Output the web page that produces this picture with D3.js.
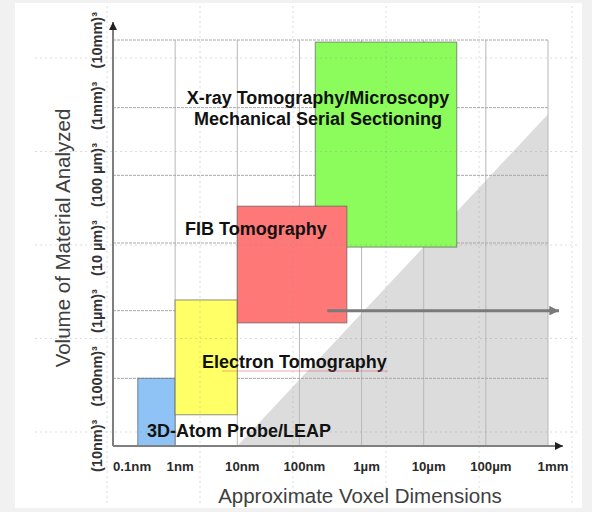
<!DOCTYPE html>
<html>
<head>
<meta charset="utf-8">
<script src="https://cdn.jsdelivr.net/npm/d3@7/dist/d3.min.js"></script>
<style>
  body { margin: 0; background: #f1f1f1; }
  svg { display: block; font-family: "Liberation Sans", Arial, sans-serif; }
</style>
</head>
<body>
<svg id="chart" width="592" height="512"></svg>
<script>
// Voxel size axis (nm) and its labels
const xTickValues = [0.1, 1, 10, 100, 1e3, 1e4, 1e5, 1e6];
const xTickLabels = ["0.1nm", "1nm", "10nm", "100nm", "1µm", "10µm", "100µm", "1mm"];

// Analyzed volume, expressed as the edge length of a cube (nm)
const yTickValues = [10, 100, 1e3, 1e4, 1e5, 1e6, 1e7];
const yTickLabels = ["(10nm)³", "(100nm)³", "(1µm)³", "(10 µm)³", "(100 µm)³", "(1mm)³", "(10mm)³"];

// Technique windows: voxel size range and volume (edge length) range, nm
const techniques = ["3D-Atom Probe/LEAP", "Electron Tomography", "X-ray Tomography/Microscopy", "FIB Tomography"];
const voxelMin  = [0.25, 1, 180, 10];
const voxelMax  = [1, 10, 34000, 580];
const volumeMin = [10, 29, 8700, 660];
const volumeMax = [100, 1440, 9.3e6, 35000];
const fills     = ["#8fc3f5", "#ffff66", "#8cfc5c", "#ff7878"];

// Inaccessible region: volume smaller than the voxel
const shadeVoxel  = [10, 1e6, 1e6];
const shadeVolume = [10, 10, 8e5];

// Arrow showing the extended reach at ~1 µm³
const arrowVoxel  = [280, 1.5e6];
const arrowVolume = [1000, 1000];

const svg = d3.select("#chart");
const W = 592, H = 512;

const x = d3.scaleLog().domain([0.1, 1e6]).range([113, 548]);
const y = d3.scaleLog().domain([10, 1e7]).range([446, 40]);

// page and white panel
svg.append("rect").attr("width", W).attr("height", H).attr("fill", "#f1f1f1");
svg.append("rect").attr("x", 15).attr("y", 3).attr("width", 567).attr("height", 505).attr("fill", "#ffffff");

// shaded triangle
svg.append("path")
  .attr("d", d3.line().x(d => x(d[0])).y(d => y(d[1]))(d3.zip(shadeVoxel, shadeVolume)) + "Z")
  .attr("fill", "#dcdcdc");

// grid
const grid = svg.append("g");
grid.selectAll(".vg").data(xTickValues.slice(1)).join("line")
  .attr("x1", d => x(d)).attr("x2", d => x(d))
  .attr("y1", y(1e7)).attr("y2", y(10))
  .attr("stroke", "#b8b8b8").attr("stroke-width", 1);
grid.selectAll(".hg").data(yTickValues.slice(1)).join("line")
  .attr("x1", x(0.1)).attr("x2", x(1e6))
  .attr("y1", d => y(d)).attr("y2", d => y(d))
  .attr("stroke", "#a8a8a8").attr("stroke-width", 1).attr("stroke-dasharray", "3,1");

// technique rectangles
const order = [0, 1, 2, 3];
svg.append("g").selectAll("rect").data(order).join("rect")
  .attr("x", i => x(voxelMin[i]))
  .attr("y", i => y(volumeMax[i]))
  .attr("width", i => x(voxelMax[i]) - x(voxelMin[i]))
  .attr("height", i => y(volumeMin[i]) - y(volumeMax[i]))
  .attr("fill", i => fills[i])
  .attr("stroke", "#555").attr("stroke-opacity", 0.55).attr("stroke-width", 1.2);

// markers
const defs = svg.append("defs");
defs.append("marker").attr("id", "headAxis").attr("viewBox", "0 0 10 10")
  .attr("refX", 10).attr("refY", 5).attr("markerWidth", 4).attr("markerHeight", 4)
  .attr("orient", "auto").attr("markerUnits", "strokeWidth")
  .append("path").attr("d", "M0,0L10,5L0,10Z").attr("fill", "#222");
defs.append("marker").attr("id", "headGray").attr("viewBox", "0 0 10 10")
  .attr("refX", 10).attr("refY", 5).attr("markerWidth", 3.2).attr("markerHeight", 3.2)
  .attr("orient", "auto").attr("markerUnits", "strokeWidth")
  .append("path").attr("d", "M0,0L10,5L0,10Z").attr("fill", "#7a7a7a");

// gray arrow
svg.append("line")
  .attr("x1", x(arrowVoxel[0])).attr("y1", y(arrowVolume[0]))
  .attr("x2", x(arrowVoxel[1])).attr("y2", y(arrowVolume[1]))
  .attr("stroke", "#7a7a7a").attr("stroke-width", 3)
  .attr("marker-end", "url(#headGray)");

// axes
svg.append("line").attr("x1", x(0.1)).attr("y1", y(10)).attr("x2", 563).attr("y2", y(10))
  .attr("stroke", "#7f7f7f").attr("stroke-width", 2).attr("marker-end", "url(#headAxis)");
svg.append("line").attr("x1", x(0.1)).attr("y1", y(10)).attr("x2", x(0.1)).attr("y2", 22)
  .attr("stroke", "#7f7f7f").attr("stroke-width", 2).attr("marker-end", "url(#headAxis)");

// x tick labels
svg.append("g").selectAll("text").data(xTickValues).join("text")
  .attr("x", (d, i) => i === 0 ? x(d) : x(d) + 5)
  .attr("y", 471)
  .attr("text-anchor", (d, i) => i === 0 ? "start" : "middle")
  .attr("font-size", 13.2).attr("font-weight", "bold").attr("fill", "#2a2a2a")
  .text((d, i) => xTickLabels[i]);

// y tick labels: one line running up the axis, spread over its full length
const yLab = svg.append("text")
  .attr("transform", "translate(102,472) rotate(-90)")
  .attr("font-size", 14.5).attr("font-weight", "bold").attr("fill", "#333");
const spans = yLab.selectAll("tspan").data(yTickLabels).join("tspan").text(d => d);
const total = d3.sum(spans.nodes(), n => n.getComputedTextLength());
const gap = (460 - total) / (yTickLabels.length - 1);
spans.attr("dx", (d, i) => i === 0 ? 0 : gap);

// technique labels
const lab = svg.append("g").attr("font-size", 18).attr("font-weight", "bold").attr("fill", "#111");
lab.append("text").attr("x", 318).attr("y", 104).attr("text-anchor", "middle").text(techniques[2]);
lab.append("text").attr("x", 318).attr("y", 125).attr("text-anchor", "middle").text("Mechanical Serial Sectioning");
lab.append("text").attr("x", 185).attr("y", 235).text(techniques[3]);
lab.append("text").attr("x", 202).attr("y", 368).text(techniques[1]);
lab.append("text").attr("x", 147).attr("y", 437).text(techniques[0]);
svg.append("line").attr("x1", 222).attr("x2", 388).attr("y1", 371).attr("y2", 371)
  .attr("stroke", "#e06878").attr("stroke-opacity", 0.55).attr("stroke-width", 1);

// axis titles
svg.append("text").attr("x", 360).attr("y", 503).attr("text-anchor", "middle")
  .attr("font-size", 20.5).attr("fill", "#404040").text("Approximate Voxel Dimensions");
svg.append("text").attr("transform", "translate(70,238) rotate(-90)").attr("text-anchor", "middle")
  .attr("font-size", 20.5).attr("fill", "#404040").text("Volume of Material Analyzed");

// faint dotted layout grid over the panel
const dots = svg.append("g").attr("stroke", "#8a8a8a").attr("stroke-opacity", 0.3)
  .attr("stroke-width", 1).attr("stroke-dasharray", "2,3");
dots.selectAll(".dv").data(d3.range(107, 580, 93)).join("line")
  .attr("x1", d => d).attr("x2", d => d).attr("y1", 6).attr("y2", 505);
dots.selectAll(".dh").data(d3.range(58, 505, 93.5)).join("line")
  .attr("x1", 35).attr("x2", 580).attr("y1", d => d).attr("y2", d => d);
</script>
</body>
</html>
